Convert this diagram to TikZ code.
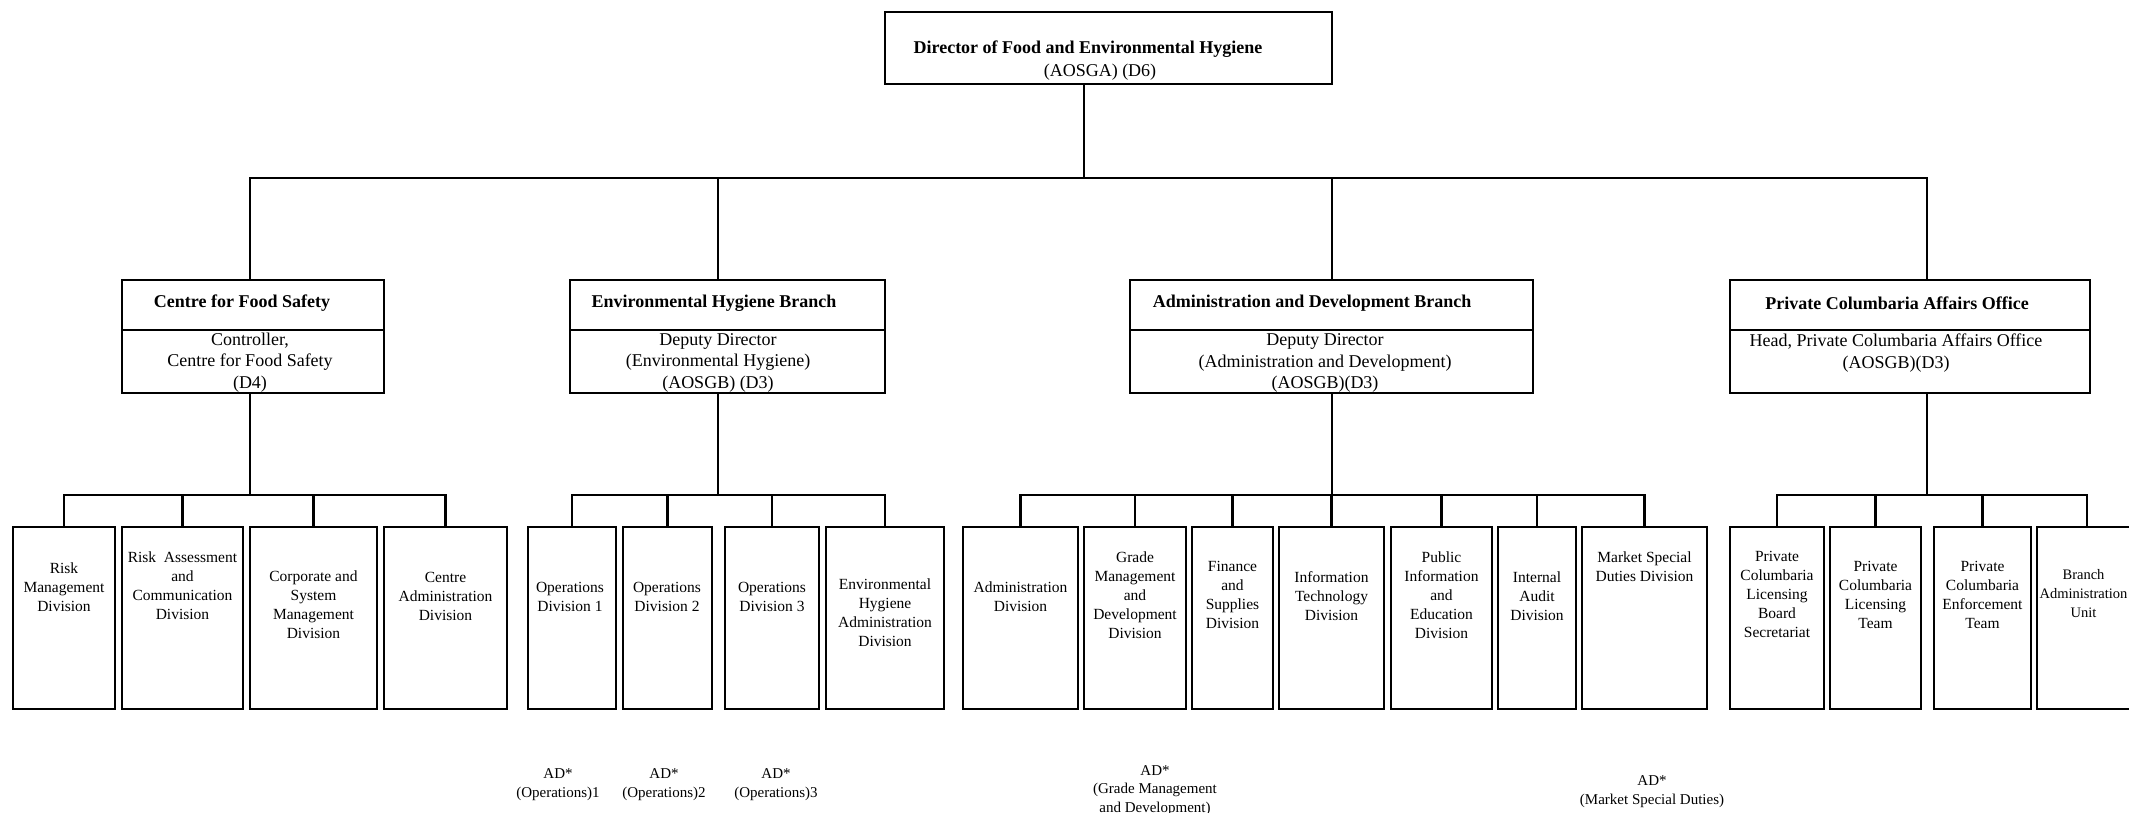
\documentclass[tikz,border=0pt]{standalone}
\usepackage{fontspec}
\setmainfont{Liberation Serif}

\begin{document}
\begin{tikzpicture}[x=1pt, y=-1pt, line width=2.6pt,
  every node/.style={inner sep=0pt, outer sep=0pt},
  boxnode/.style={draw, line width=2.6pt},
  titletext/.style={font=\bfseries\fontsize{18}{21.5}\selectfont},
  headtext/.style={align=center, font=\fontsize{18}{21.5}\selectfont},
  divtext/.style={align=center, font=\fontsize{15.5}{19}\selectfont},
  adtext/.style={align=center, font=\fontsize{15}{18.5}\selectfont}]
\useasboundingbox (0,0) rectangle (2129,813);

% Director
\node[boxnode, minimum width=447pt, minimum height=72pt] (dir) at (1108.5,48) {};
\node[titletext] (dir-t) at (1088,49.5) {Director of Food and Environmental Hygiene};
\node[headtext] (dir-g) at (1100,72) {(AOSGA) (D6)};
\coordinate (topbus) at (1084,178);
\draw (dir.south -| topbus) -- (topbus);

% Branch boxes
\node[boxnode, minimum width=262pt, minimum height=113pt] (cfs) at (253,336.5) {};
\node[titletext] (cfs-t) at (242,303) {Centre for Food Safety};
\node[headtext] (cfs-g) at (250,362.5) {Controller,\\Centre for Food Safety\\(D4)};

\node[boxnode, minimum width=315pt, minimum height=113pt] (ehb) at (727.5,336.5) {};
\node[titletext] (ehb-t) at (714,303) {Environmental Hygiene Branch};
\node[headtext] (ehb-g) at (718,362.5) {Deputy Director\\(Environmental Hygiene)\\(AOSGB) (D3)};

\node[boxnode, minimum width=403pt, minimum height=113pt] (adb) at (1331.5,336.5) {};
\node[titletext] (adb-t) at (1312,303) {Administration and Development Branch};
\node[headtext] (adb-g) at (1325,363) {Deputy Director\\(Administration and Development)\\(AOSGB)(D3)};

\node[boxnode, minimum width=360pt, minimum height=113pt] (pcao) at (1910,336.5) {};
\node[titletext] (pcao-t) at (1897,303) {Private Columbaria Affairs Office};
\node[headtext] (pcao-g) at (1896,353) {Head, Private Columbaria Affairs Office\\(AOSGB)(D3)};

% branch lines
\foreach \bname/\bcx in {cfs/250, ehb/718, adb/1332, pcao/1927} {
  \draw ([yshift=-50pt]\bname.north west) -- ([yshift=-50pt]\bname.north east);
  \coordinate (\bname-top) at (\bcx,280);
  \coordinate (\bname-bus) at (\bcx,495);
  \draw (topbus) -| (\bname-top);
  \draw (\bname.south -| \bname-bus) -- (\bname-bus);
}

% Division boxes (branch/name/left/right)
\foreach \p/\n/\xa/\xb in {
  cfs/rmd/13/115, cfs/rac/122/243, cfs/csm/250/377, cfs/cad/384/507,
  ehb/od1/528/616, ehb/od2/623/712, ehb/od3/725/819, ehb/eha/826/944,
  adb/adm/963/1078, adb/gmd/1084/1186, adb/fsd/1192/1273, adb/itd/1279/1384,
  adb/pie/1391/1492, adb/iad/1498/1576, adb/msd/1582/1707,
  pcao/lbs/1730/1824, pcao/plt/1830/1921, pcao/pet/1934/2031, pcao/bau/2037/2137
} {
  \node[boxnode, minimum width={(\xb-\xa)*1pt}, minimum height=182pt] (\n) at ({(\xa+\xb)/2},618) {};
  \draw (\p-bus) -| (\n.north);
}

% Division names
\node[divtext] (rmd-t) at (64,587) {Risk\\Management\\Division};
\node[divtext] (rac-t) at (182.5,586) {Risk~~Assessment\\and\\Communication\\Division};
\node[divtext] (csm-t) at (313.5,605) {Corporate and\\System\\Management\\Division};
\node[divtext] (cad-t) at (445.5,596) {Centre\\Administration\\Division};
\node[divtext] (od1-t) at (570,597) {Operations\\Division 1};
\node[divtext] (od2-t) at (667,597) {Operations\\Division 2};
\node[divtext] (od3-t) at (772,597) {Operations\\Division 3};
\node[divtext] (eha-t) at (885,613) {Environmental\\Hygiene\\Administration\\Division};
\node[divtext] (adm-t) at (1020.5,597) {Administration\\Division};
\node[divtext] (gmd-t) at (1135,595) {Grade\\Management\\and\\Development\\Division};
\node[divtext] (fsd-t) at (1232.5,595) {Finance\\and\\Supplies\\Division};
\node[divtext] (itd-t) at (1331.5,596) {Information\\Technology\\Division};
\node[divtext] (pie-t) at (1441.5,595) {Public\\Information\\and\\Education\\Division};
\node[divtext] (iad-t) at (1537,596) {Internal\\Audit\\Division};
\node[divtext] (msd-t) at (1644.5,567) {Market Special\\Duties Division};
\node[divtext] (lbs-t) at (1777,594) {Private\\Columbaria\\Licensing\\Board\\Secretariat};
\node[divtext] (plt-t) at (1875.5,595) {Private\\Columbaria\\Licensing\\Team};
\node[divtext] (pet-t) at (1982.5,595) {Private\\Columbaria\\Enforcement\\Team};
\node[divtext, font=\fontsize{14.5}{19}\selectfont] (bau-t) at (2083.5,594) {Branch\\Administration\\Unit};

% AD posts
\node[adtext] (ad1) at (558,784.5) {AD*\\(Operations)1};
\node[adtext] (ad2) at (664,784.5) {AD*\\(Operations)2};
\node[adtext] (ad3) at (776,784.5) {AD*\\(Operations)3};
\node[adtext] (adg) at (1155,790.5) {AD*\\(Grade Management\\and Development)};
\node[adtext] (adm) at (1652,791.5) {AD*\\(Market Special Duties)};
\end{tikzpicture}
\end{document}
